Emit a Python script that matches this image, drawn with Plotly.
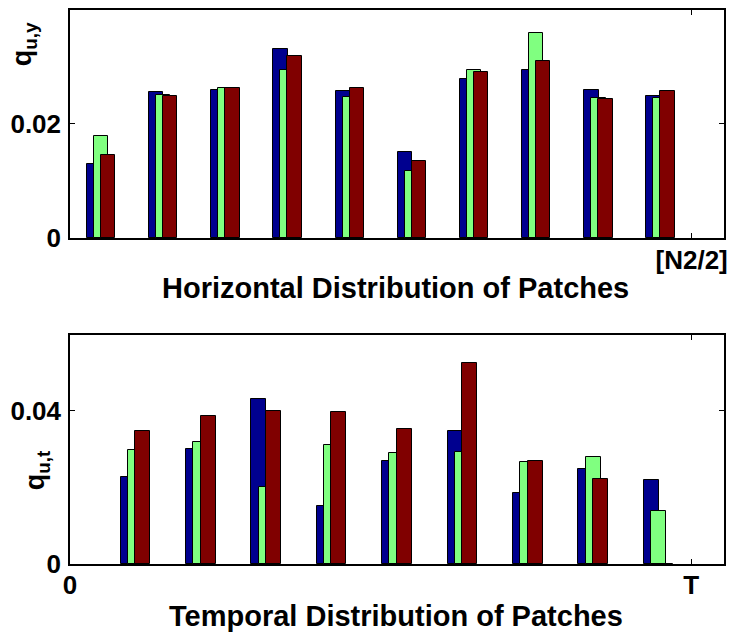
import plotly.graph_objects as go
from plotly.subplots import make_subplots

# ---- data ----
top_centers = [0.5, 1.5, 2.5, 3.5, 4.5, 5.5, 6.5, 7.5, 8.5, 9.5]
top_blue = [0.0130, 0.0254, 0.0259, 0.0330, 0.0257, 0.0150, 0.0277, 0.0294, 0.0258, 0.0248]
top_green = [0.0178, 0.0250, 0.0261, 0.0294, 0.0246, 0.0117, 0.0293, 0.0358, 0.0244, 0.0244]
top_red = [0.0145, 0.0248, 0.0261, 0.0317, 0.0261, 0.0135, 0.0290, 0.0309, 0.0243, 0.0257]

bot_centers = [1, 2, 3, 4, 5, 6, 7, 8, 9]
bot_blue = [0.0228, 0.0300, 0.0429, 0.0152, 0.0269, 0.0347, 0.0184, 0.0248, 0.0218]
bot_green = [0.0298, 0.0319, 0.0201, 0.0310, 0.0289, 0.0292, 0.0267, 0.0278, 0.0138]
bot_red = [0.0348, 0.0385, 0.0400, 0.0397, 0.0352, 0.0525, 0.0268, 0.0222, 0.0]

top_xticks = [10]
top_xticklabels = ["[N2/2]"]
top_yticks = [0, 0.02]
top_yticklabels = ["0", "0.02"]
bot_xticks = [0, 9.5]
bot_xticklabels = ["0", "T"]
bot_yticks = [0, 0.04]
bot_yticklabels = ["0", "0.04"]

colors = ["#00008F", "#80FF80", "#800000"]
BAR_W = 0.23
OFFS = [-0.112, 0.0, 0.112]

FONT = "Liberation Sans, Arial, sans-serif"

fig = make_subplots(rows=2, cols=1, vertical_spacing=0.0)

for row, centers, series in [
    (1, top_centers, [top_blue, top_green, top_red]),
    (2, bot_centers, [bot_blue, bot_green, bot_red]),
]:
    for vals, col, off in zip(series, colors, OFFS):
        fig.add_trace(
            go.Bar(
                x=[c + off for c in centers],
                y=vals,
                width=BAR_W,
                marker=dict(color=col, line=dict(color="black", width=1)),
                showlegend=False,
            ),
            row=row, col=1,
        )

W, H = 735, 633
ML, MR, MT, MB = 70, 7, 10, 69
PH = H - MT - MB  # 554

def py(px):
    return (H - MB - px) / PH

def pxx(px):
    return (px - ML) / (W - ML - MR)

axis_common = dict(
    showline=True, linecolor="black", linewidth=1.5, mirror="ticks",
    ticks="inside", ticklen=5, tickwidth=1, tickcolor="black",
    showgrid=False, zeroline=False,
    tickfont=dict(family=FONT, size=26, color="black", weight="bold"),
)

fig.update_layout(
    width=W, height=H,
    margin=dict(l=ML, r=MR, t=MT, b=MB),
    paper_bgcolor="white", plot_bgcolor="white",
    barmode="overlay",
    bargap=0,
    xaxis=dict(domain=[0, 1], range=[0, 10.52], tickvals=top_xticks,
               ticktext=top_xticklabels, ticklabelstandoff=-2, **axis_common),
    yaxis=dict(domain=[py(238), 1.0], range=[0, 0.0398], tickvals=top_yticks,
               ticktext=top_yticklabels, ticklabelstandoff=2, **axis_common),
    xaxis2=dict(domain=[0, 1], range=[0, 10.0], tickvals=bot_xticks,
                ticktext=bot_xticklabels, ticklabelstandoff=-3, **axis_common),
    yaxis2=dict(domain=[0, py(335)], range=[0, 0.0597], tickvals=bot_yticks,
                ticktext=bot_yticklabels, ticklabelstandoff=2, **axis_common),
)

lab_font = dict(family=FONT, size=29, color="black", weight="bold")
ylab_font = dict(family=FONT, size=27, color="black", weight="bold")

fig.add_annotation(text="Horizontal Distribution of Patches", xref="paper", yref="paper",
                   x=pxx(397), y=py(288), xanchor="center", yanchor="middle",
                   showarrow=False, font=lab_font)
fig.add_annotation(text="Temporal Distribution of Patches", xref="paper", yref="paper",
                   x=pxx(398), y=py(616), xanchor="center", yanchor="middle",
                   showarrow=False, font=lab_font)
fig.add_annotation(text="q<sub>u,y</sub>", xref="paper", yref="paper",
                   x=pxx(24), y=py(44), xanchor="center", yanchor="middle",
                   textangle=-90, showarrow=False, font=ylab_font)
fig.add_annotation(text="q<sub>u,t</sub>", xref="paper", yref="paper",
                   x=pxx(37), y=py(470), xanchor="center", yanchor="middle",
                   textangle=-90, showarrow=False, font=ylab_font)

fig.write_html("out.html")
